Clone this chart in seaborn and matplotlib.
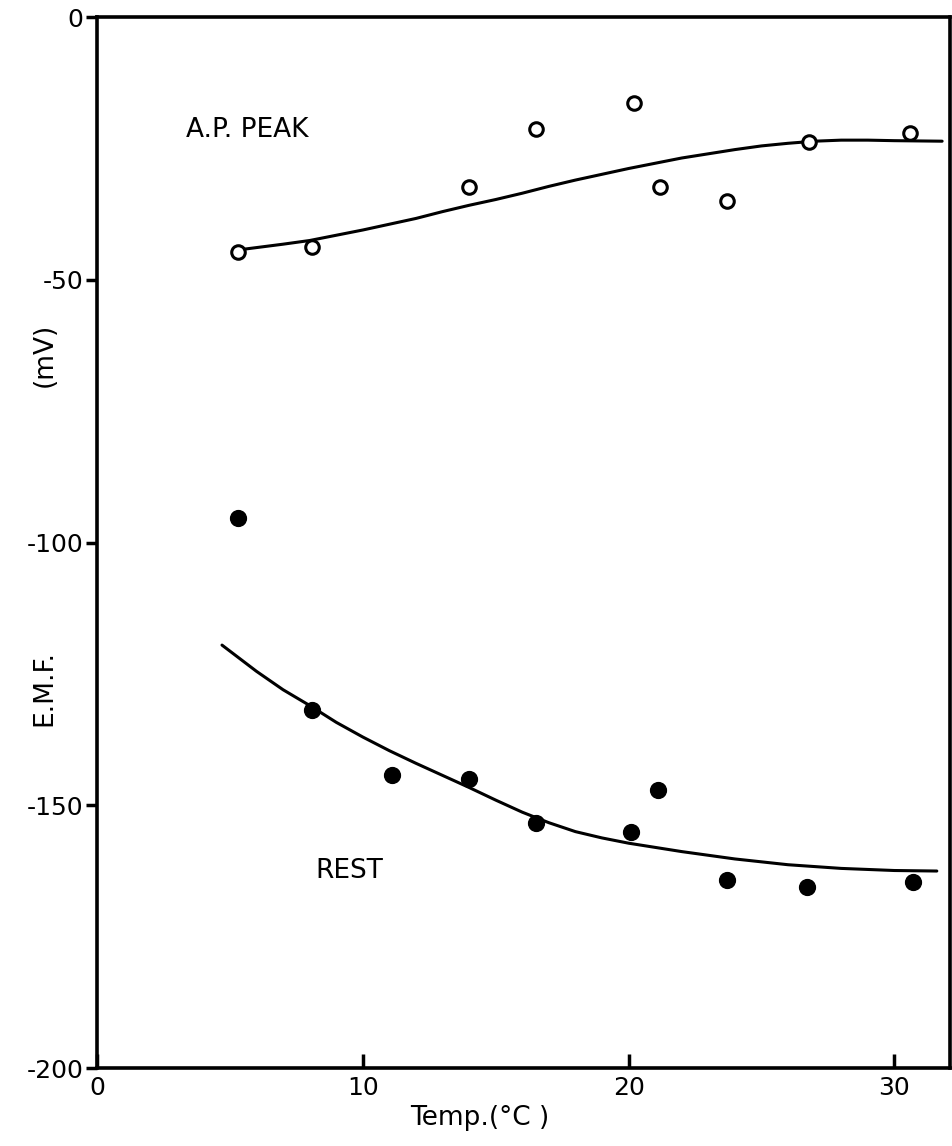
import matplotlib
matplotlib.use("Agg")
import matplotlib.pyplot as plt
import seaborn as sns

# ---- data ----
temp_peak = [5.3, 8.1, 14.0, 16.5, 20.2, 21.2, 23.7, 26.8, 30.6]
emf_peak = [-44.7, -43.7, -32.4, -21.3, -16.3, -32.4, -35.0, -23.7, -22.0]

temp_rest = [5.3, 8.1, 11.1, 14.0, 16.5, 20.1, 21.1, 23.7, 26.7, 30.7]
emf_rest = [-95.3, -131.9, -144.2, -145.0, -153.4, -155.1, -147.1, -164.2, -165.6, -164.6]

# hand-drawn fitted curves (anchor points)
curve_peak_x = [5.3, 7.0, 8.0, 9.0, 10.0, 11.0, 12.0, 13.0, 14.0, 15.0, 16.0, 17.0, 18.0, 19.0,
                20.0, 21.0, 22.0, 23.0, 24.0, 25.0, 26.0, 27.0, 28.0, 29.0, 30.0, 31.8]
curve_peak_y = [-44.3, -43.2, -42.5, -41.5, -40.5, -39.4, -38.3, -37.0, -35.8, -34.7, -33.5,
                -32.2, -31.0, -29.9, -28.8, -27.8, -26.8, -26.0, -25.2, -24.5, -24.0, -23.6,
                -23.4, -23.4, -23.5, -23.6]

curve_rest_x = [4.7, 6.0, 7.0, 8.0, 9.0, 10.0, 11.0, 12.0, 13.0, 14.0, 15.0, 16.0, 17.0, 18.0,
                19.0, 20.0, 21.0, 22.0, 24.0, 26.0, 28.0, 30.0, 31.6]
curve_rest_y = [-119.5, -124.5, -128.0, -131.0, -134.2, -137.0, -139.6, -142.0, -144.3, -146.6,
                -149.0, -151.3, -153.3, -155.0, -156.2, -157.2, -158.0, -158.8, -160.2, -161.3,
                -162.0, -162.4, -162.5]

x_ticks = [0, 10, 20, 30]
y_ticks = [0, -50, -100, -150, -200]

sns.set_style("white")
plt.rcParams['font.family'] = ['DejaVu Sans']
plt.rcParams['text.color'] = 'black'

fig = plt.figure(figsize=(9.52, 11.46), dpi=100)
ax = fig.add_axes([0.102, 0.068, 0.896, 0.917])

sns.lineplot(x=curve_peak_x, y=curve_peak_y, color='black', linewidth=2.2,
             sort=False, estimator=None, ax=ax)
sns.lineplot(x=curve_rest_x, y=curve_rest_y, color='black', linewidth=2.2,
             sort=False, estimator=None, ax=ax)

sns.scatterplot(x=temp_peak, y=emf_peak, marker='o', s=95, facecolor='white',
                edgecolor='black', linewidth=2.2, zorder=3, ax=ax)
sns.scatterplot(x=temp_rest, y=emf_rest, marker='o', s=130, color='black',
                edgecolor='black', linewidth=1, zorder=3, ax=ax)

ax.set_xlim(0, 32.1)
ax.set_ylim(-200, 0)
ax.set_xticks(x_ticks)
ax.set_yticks(y_ticks)
ax.set_xticklabels([str(v) for v in x_ticks])
ax.set_yticklabels([str(v) for v in y_ticks])

for s in ax.spines.values():
    s.set_visible(True)
    s.set_color('black')
    s.set_linewidth(2.6)

ax.tick_params(axis='y', direction='out', length=8, width=2.5, labelsize=18, pad=2,
               colors='black', left=True)
ax.tick_params(axis='x', direction='in', length=10, width=2.5, labelsize=18, pad=6,
               colors='black', bottom=True)
ax.set_xlabel('')
ax.set_ylabel('')

ax.text(3.35, -21.5, 'A.P. PEAK', fontsize=19, va='center', ha='left', color='black')
ax.text(8.2, -162.5, 'REST', fontsize=19, va='center', ha='left', color='black')

fig.text(0.504, 0.024, 'Temp.(°C )', fontsize=19, ha='center', va='center', color='black')
fig.text(0.047, 0.40, 'E.M.F.', fontsize=19, rotation=90, ha='center', va='center', color='black')
fig.text(0.047, 0.69, '(mV)', fontsize=19, rotation=90, ha='center', va='center', color='black')

fig.savefig('out.png', dpi=100)
